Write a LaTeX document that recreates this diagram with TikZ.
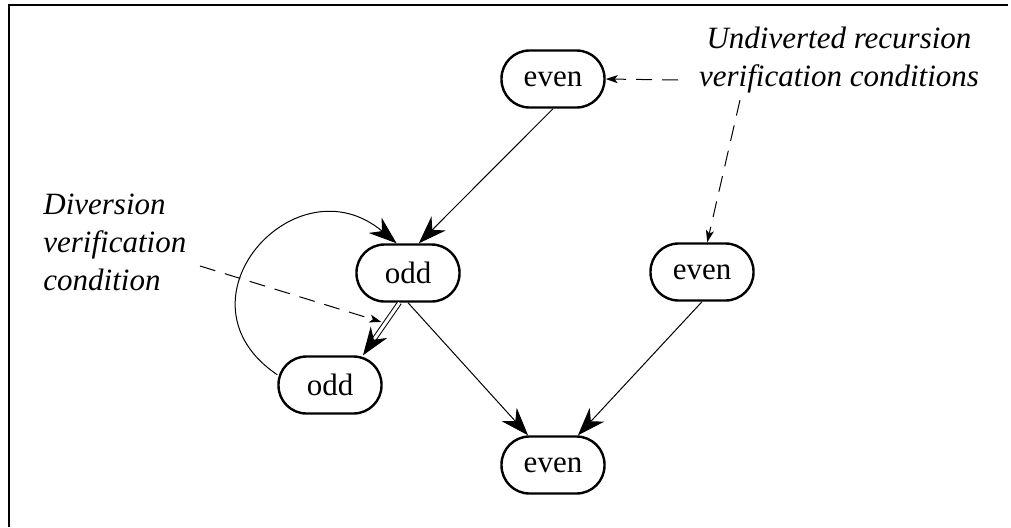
\documentclass[tikz,border=0pt]{standalone}
\usepackage{fontspec}
\setmainfont{Liberation Serif}
\usetikzlibrary{arrows.meta}

\begin{document}
\begin{tikzpicture}[
        x=0.5pt, y=0.5pt,
        fn/.style={draw, line width=1.2pt, rounded corners=14pt,
            minimum width=51.5pt, minimum height=28.5pt, inner sep=0pt,
            font=\fontsize{15.5}{19}\selectfont},
        note/.style={inner sep=0pt, font=\fontsize{15.5}{19}\selectfont\itshape},
        call/.style={line width=0.5pt, -{Stealth[length=14pt, width=10pt, inset=4.5pt]}},
        vc/.style={line width=0.5pt, dash pattern=on 8pt off 5pt,
            -{Stealth[length=6pt, width=4pt, inset=1.5pt]}}
    ]
    \useasboundingbox (0,0) rectangle (1011,527);
    \draw[line width=1pt] (9,0) -- (9,522) -- (1008,522);

    \node[fn] (even1) at (553,448) {even};
    \node[fn] (odd1) at (408,254) {odd};
    \node[fn] (even2) at (702,255) {even};
    \node[fn] (odd2) at (330,142) {odd};
    \node[fn] (even3) at (553,62) {even};

    \node[note, align=center] (undiv) at (839,467) {Undiverted recursion\\verification conditions};
    \node[note, align=left, anchor=west] (div) at (43,285) {Diversion\\verification\\condition};
    \coordinate (undiv-a) at (678,447);
    \coordinate (undiv-b) at (740,427);
    \coordinate (div-a) at (200,261);

    \draw[call] (even1.south) -- (odd1.70);
    \draw[call] (odd1.south) -- (even3.130);
    \draw[call] (even2.south) -- (even3.50);
    \draw[call] (odd2.169) to[out=146, in=140, looseness=1.9] (odd1.111);
    \draw[call, double, double distance=1.5pt] (odd1.254) -- coordinate[pos=0.39] (dv) (odd2.42);

    \draw[vc] (undiv-a) -- (even1.east);
    \draw[vc] (undiv-b) -- (even2.80);
    \draw[vc, shorten >=2pt] (div-a) -- (dv);
\end{tikzpicture}
\end{document}
